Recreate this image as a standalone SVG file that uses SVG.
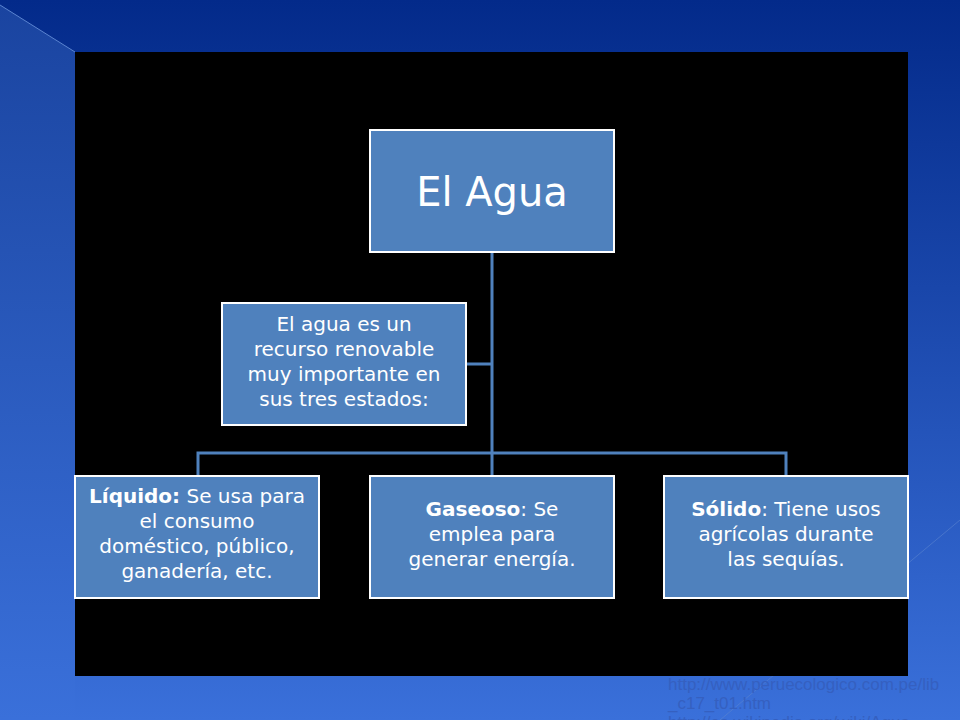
<svg xmlns="http://www.w3.org/2000/svg" width="960" height="720" viewBox="0 0 960 720">
<defs>
<linearGradient id="bg" x1="0" y1="0" x2="0" y2="1"><stop offset="0" stop-color="#032a8a"/><stop offset="1" stop-color="#3a70da"/></linearGradient>
<linearGradient id="lp" x1="0" y1="0" x2="0" y2="1"><stop offset="0" stop-color="#1a44a0"/><stop offset="1" stop-color="#3a70da"/></linearGradient>
</defs>
<style>
.box{fill:#4f81bd;stroke:#fff;stroke-width:2}
.t{font-family:"DejaVu Sans",sans-serif;fill:#fff;text-anchor:middle;font-size:20px}
.big{font-size:40px}
.c{stroke:#4f81bd;stroke-width:3;fill:none}
</style>
<rect width="960" height="720" fill="url(#bg)"/>
<polygon points="0,5 75,52 75,720 0,720" fill="url(#lp)"/>
<line x1="0" y1="5" x2="75" y2="52" stroke="#5b84d0" stroke-width="1"/>
<line x1="720" y1="720" x2="960" y2="520" stroke="#5b84d0" stroke-width="1" opacity="0.6"/>
<rect x="75" y="52" width="833" height="624" fill="#000"/>
<g id="connectors">
<path class="c" d="M492,252V476M198,476V453H786V476M466,364H492"/>
</g>
<g id="n1"><rect class="box" x="370" y="130" width="244" height="122"/><text class="t big" x="492" y="206">El Agua</text></g>
<g id="n2"><rect class="box" x="222" y="303" width="244" height="122"/>
<text class="t" x="344" y="331">El agua es un</text><text class="t" x="344" y="356">recurso renovable</text><text class="t" x="344" y="381">muy importante en</text><text class="t" x="344" y="406">sus tres estados:</text></g>
<g id="n3"><rect class="box" x="75" y="476" width="244" height="122"/>
<text class="t" x="197" y="503"><tspan font-weight="bold">Líquido:</tspan> Se usa para</text><text class="t" x="197" y="528">el consumo</text><text class="t" x="197" y="553">doméstico, público,</text><text class="t" x="197" y="578">ganadería, etc.</text></g>
<g id="n4"><rect class="box" x="370" y="476" width="244" height="122"/>
<text class="t" x="492" y="516"><tspan font-weight="bold">Gaseoso</tspan>: Se</text><text class="t" x="492" y="541">emplea para</text><text class="t" x="492" y="566">generar energía.</text></g>
<g id="n5"><rect class="box" x="664" y="476" width="244" height="122"/>
<text class="t" x="786" y="516"><tspan font-weight="bold">Sólido</tspan>: Tiene usos</text><text class="t" x="786" y="541">agrícolas durante</text><text class="t" x="786" y="566">las sequías.</text></g>
<g font-family="Liberation Sans,Arial,sans-serif" font-size="17" fill="#3560c0">
<text x="668" y="690">http://www.peruecologico.com.pe/lib</text>
<text x="668" y="709">_c17_t01.htm</text>
<text x="668" y="728">http://es.wikipedia.org/wiki/Agua</text>
</g>
</svg>
